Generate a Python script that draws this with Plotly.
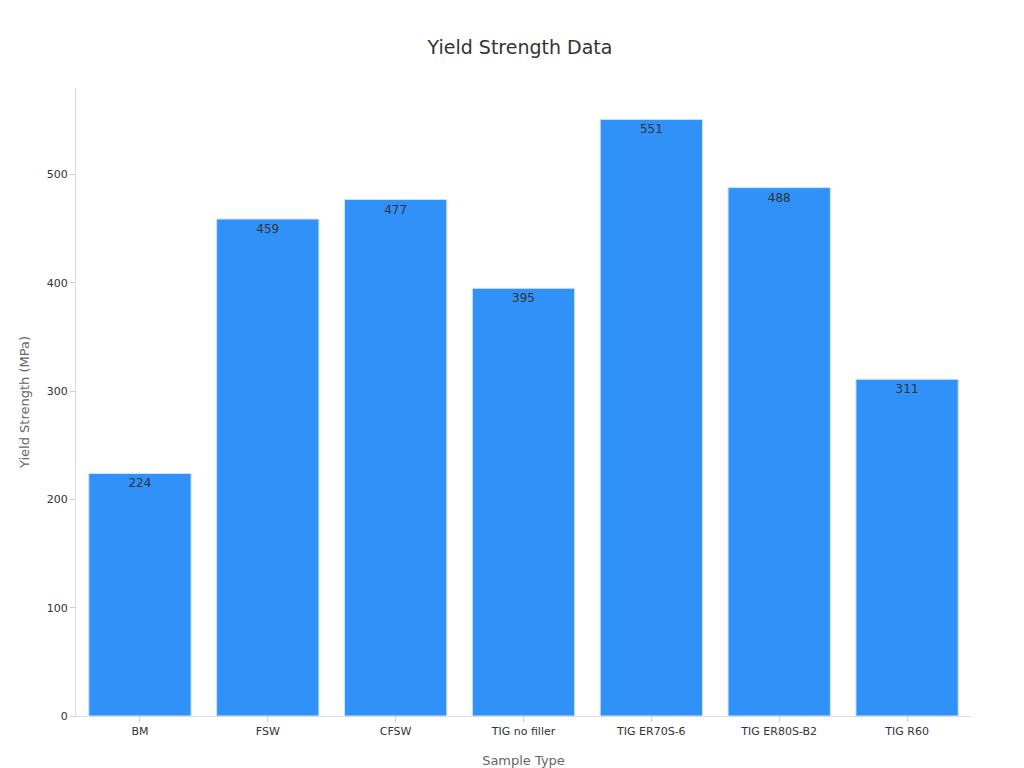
import plotly.graph_objects as go

categories = ["BM", "FSW", "CFSW", "TIG no filler", "TIG ER70S-6", "TIG ER80S-B2", "TIG R60"]
values = [224, 459, 477, 395, 551, 488, 311]

fig = go.Figure(go.Bar(
    x=categories, y=values, text=values, textposition="inside", insidetextanchor="end",
    textfont=dict(color="#333", size=12),
    marker=dict(color="#3092F8", line=dict(color="#cfe3fb", width=1)),
))
fig.update_layout(
    width=1024, height=768, template="none",
    font=dict(family="DejaVu Sans", color="#333"),
    title=dict(text="Yield Strength Data", x=0.5, y=0.957, xanchor="center", font=dict(size=19, color="#333")),
    margin=dict(l=68, r=61, t=80, b=60),
    bargap=0.2, plot_bgcolor="white", paper_bgcolor="white",
    xaxis=dict(title=dict(text="Sample Type", font=dict(size=13, color="#666"), standoff=18), showgrid=False,
               automargin=False,
               showline=True, linecolor="#ddd", ticks="outside", tickcolor="#ccc", ticklen=5,
               tickfont=dict(size=11, color="#333")),
    yaxis=dict(title=dict(text="Yield Strength (MPa)", font=dict(size=13, color="#666"), standoff=14), range=[0, 580],
               automargin=False,
               showgrid=False, showline=True, linecolor="#ddd", ticks="outside", tickcolor="#ccc", ticklen=5,
               tickvals=[0, 100, 200, 300, 400, 500], tickfont=dict(size=11, color="#333"), zeroline=False),
)
fig.write_html("out.html")
